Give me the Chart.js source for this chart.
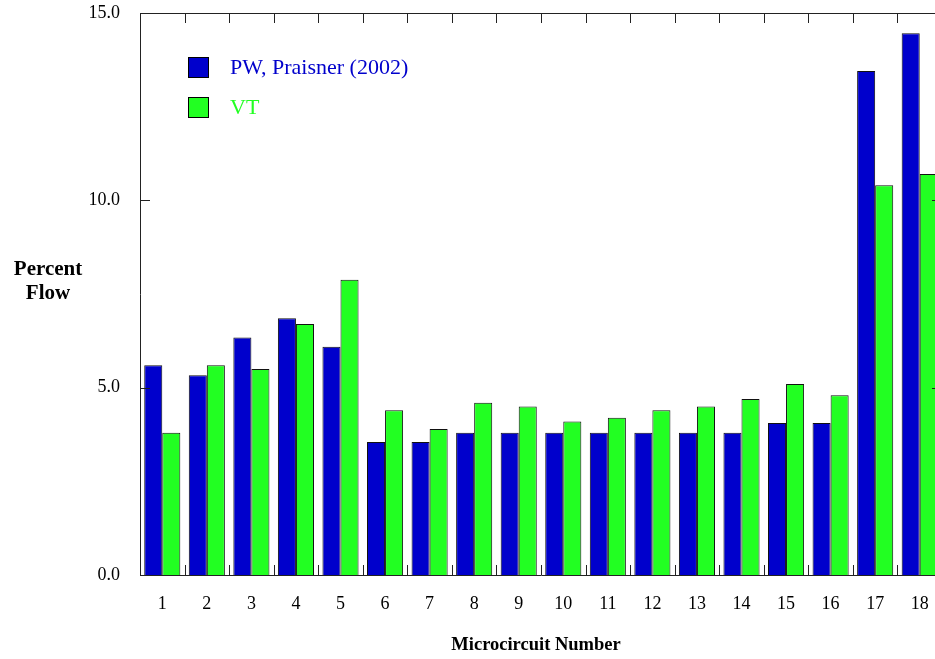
<!DOCTYPE html>
<html>
<head>
<meta charset="utf-8">
<script src="https://cdn.jsdelivr.net/npm/chart.js@4/dist/chart.umd.min.js"></script>
<style>
  html, body { margin: 0; padding: 0; background: #fff; overflow: hidden; width: 935px; height: 659px; }
  canvas { display: block; }
</style>
</head>
<body>
<canvas id="c" width="950" height="659"></canvas>
<script>
// Microcircuit numbers along the x axis
const circuits = ['1','2','3','4','5','6','7','8','9','10','11','12','13','14','15','16','17','18'];
// Percent flow per microcircuit
const praisner = [5.6, 5.33, 6.34, 6.85, 6.09, 3.55, 3.55, 3.8, 3.8, 3.8, 3.8, 3.8, 3.8, 3.8, 4.06, 4.06, 13.45, 14.46];
const vt       = [3.8, 5.6, 5.5, 6.7, 7.88, 4.4, 3.9, 4.6, 4.5, 4.1, 4.2, 4.4, 4.5, 4.7, 5.1, 4.8, 10.4, 10.7];
const yTicks = [0, 5, 10, 15];

const seriesNames = ['PW, Praisner (2002)', 'VT'];
const BLUE = '#0000CC';
const GREEN = '#22FF22';
const SERIF = '"Liberation Serif", "Times New Roman", serif';

// Axis frame, inward ticks, legend and axis titles
const decorations = {
  id: 'decorations',
  beforeDraw(chart) {
    const ctx = chart.ctx;
    ctx.save();
    ctx.fillStyle = '#fff';
    ctx.fillRect(0, 0, chart.width, chart.height);
    ctx.restore();
  },
  afterDraw(chart) {
    const ctx = chart.ctx;
    const a = chart.chartArea;
    const x = chart.scales.x, y = chart.scales.y;
    ctx.save();
    ctx.lineWidth = 1;
    ctx.strokeStyle = '#222';
    // frame
    ctx.beginPath();
    ctx.moveTo(a.left + 0.5, a.top + 0.5);
    ctx.lineTo(a.right + 0.5, a.top + 0.5);
    ctx.lineTo(a.right + 0.5, a.bottom + 0.5);
    ctx.lineTo(a.left + 0.5, a.bottom + 0.5);
    ctx.closePath();
    ctx.stroke();
    // category boundary ticks, top (down) and bottom (up)
    const n = circuits.length;
    ctx.beginPath();
    for (let i = 0; i <= n; i++) {
      let px;
      if (i === 0) px = a.left;
      else if (i === n) px = a.right;
      else px = (x.getPixelForValue(i - 1) + x.getPixelForValue(i)) / 2;
      px = Math.round(px) + 0.5;
      ctx.moveTo(px, a.top);
      ctx.lineTo(px, a.top + 10);
      ctx.moveTo(px, a.bottom);
      ctx.lineTo(px, a.bottom - 10);
    }
    // value ticks, left (right-pointing) and right (left-pointing)
    yTicks.forEach(v => {
      const py = Math.round(y.getPixelForValue(v)) + 0.5;
      ctx.moveTo(a.left, py);
      ctx.lineTo(a.left + 10, py);
      ctx.moveTo(a.right, py);
      ctx.lineTo(a.right - 10, py);
    });
    ctx.stroke();

    // legend
    const colors = [BLUE, GREEN];
    const rows = [67, 107];
    ctx.font = '22px ' + SERIF;
    ctx.textBaseline = 'middle';
    ctx.textAlign = 'left';
    seriesNames.forEach((name, i) => {
      const cy = rows[i];
      ctx.fillStyle = colors[i];
      ctx.fillRect(188, cy - 10, 20, 20);
      ctx.strokeStyle = '#000';
      ctx.strokeRect(188.5, cy - 9.5, 20, 20);
      ctx.fillStyle = colors[i];
      ctx.fillText(name, 230, cy + 1);
    });

    // axis titles
    ctx.fillStyle = '#000';
    ctx.textAlign = 'center';
    ctx.font = 'bold 21px ' + SERIF;
    ctx.fillText('Percent', 48, 270);
    ctx.fillText('Flow', 48, 294);
    ctx.font = 'bold 18.5px ' + SERIF;
    ctx.fillText('Microcircuit Number', 536, 645);
    ctx.restore();
  }
};

new Chart(document.getElementById('c'), {
  type: 'bar',
  data: {
    labels: circuits,
    datasets: [
      { label: seriesNames[0], data: praisner, backgroundColor: BLUE, borderColor: '#111', borderWidth: 1 },
      { label: seriesNames[1], data: vt, backgroundColor: GREEN, borderColor: '#111', borderWidth: 1 }
    ]
  },
  options: {
    responsive: false,
    animation: false,
    devicePixelRatio: 1,
    layout: { padding: { top: 13, right: 8, left: 0, bottom: 0 } },
    datasets: { bar: { categoryPercentage: 0.81, barPercentage: 1.0 } },
    plugins: { legend: { display: false }, tooltip: { enabled: false } },
    scales: {
      x: {
        grid: { display: false, drawTicks: false },
        border: { display: false },
        ticks: { color: '#000', font: { family: SERIF, size: 18 }, padding: 18, maxRotation: 0, autoSkip: false },
        afterFit(s) { s.height = 84; s.paddingLeft = 0; s.paddingRight = 0; }
      },
      y: {
        min: 0, max: 15,
        grid: { display: false, drawTicks: false },
        border: { display: false },
        afterBuildTicks(s) { s.ticks = yTicks.map(v => ({ value: v })); },
        ticks: { color: '#000', font: { family: SERIF, size: 18 }, padding: 20, callback: v => Number(v).toFixed(1) },
        afterFit(s) { s.width = 140; s.paddingTop = 0; s.paddingBottom = 0; }
      }
    }
  },
  plugins: [decorations]
});
</script>
</body>
</html>
